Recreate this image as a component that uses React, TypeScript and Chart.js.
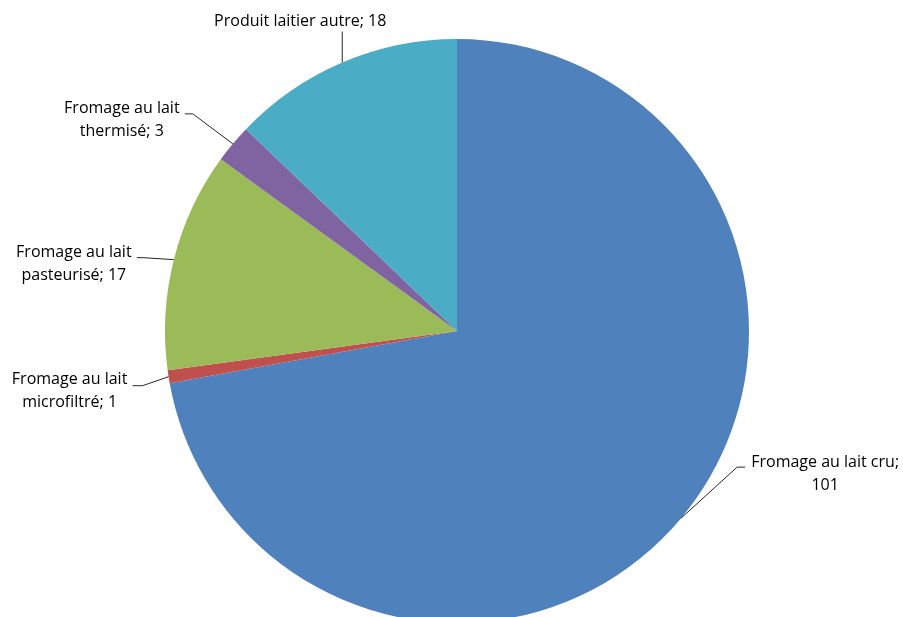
import React, { useEffect, useRef } from "react";
import { Chart, registerables } from "chart.js";

Chart.register(...registerables);

const categories = [
  "Fromage au lait cru",
  "Fromage au lait microfiltré",
  "Fromage au lait pasteurisé",
  "Fromage au lait thermisé",
  "Produit laitier autre",
];
const values = [101, 1, 17, 3, 18];
const labelLines = [
  ["Fromage au lait cru;", "101"],
  ["Fromage au lait", "microfiltré; 1"],
  ["Fromage au lait", "pasteurisé; 17"],
  ["Fromage au lait", "thermisé; 3"],
  ["Produit laitier autre; 18"],
];
const colors = ["#4F81BD", "#C0504D", "#9BBB59", "#8064A2", "#4BACC6"];

// label placement relative to slice anchor (mid-angle point on the rim)
const labelLayout = [
  { dx: 144, dy: -44, elbow: [56, -51], end: [64, -51] },
  { dx: -99, dy: 14, elbow: [-26, 9], end: [-36, 9] },
  { dx: -100, dy: 4, elbow: [-31, -2], end: [-37, -2] },
  { dx: -111, dy: -24, elbow: [-40, -30], end: [-48, -30] },
  { dx: -42, dy: -41, elbow: [0, -31], end: [0, -31] },
];

const labelPlugin = {
  id: "pieLabels",
  afterDraw(chart: any) {
    const ctx = chart.ctx;
    const meta = chart.getDatasetMeta(0);
    ctx.save();
    ctx.font = "16px 'Open Sans'";
    ctx.textAlign = "center";
    ctx.textBaseline = "middle";
    const lineH = 23;
    meta.data.forEach((arc: any, i: number) => {
      const p = arc.getProps(["x", "y", "startAngle", "endAngle", "outerRadius"], true);
      const mid = (p.startAngle + p.endAngle) / 2;
      const ax = p.x + Math.cos(mid) * p.outerRadius;
      const ay = p.y + Math.sin(mid) * p.outerRadius;
      const L = labelLayout[i];
      ctx.strokeStyle = "#262626";
      ctx.lineWidth = 1;
      ctx.beginPath();
      ctx.moveTo(ax, ay);
      ctx.lineTo(ax + L.elbow[0], ay + L.elbow[1]);
      ctx.lineTo(ax + L.end[0], ay + L.end[1]);
      ctx.stroke();
      const lines = labelLines[i];
      const cx = ax + L.dx;
      const cy = ay + L.dy;
      ctx.fillStyle = "#000000";
      lines.forEach((t, k) => {
        const y = cy + (k - (lines.length - 1) / 2) * lineH;
        ctx.fillText(t, cx, y);
      });
    });
    ctx.restore();
  },
};

export default function App() {
  const ref = useRef<HTMLCanvasElement>(null);
  useEffect(() => {
    const chart = new Chart(ref.current as HTMLCanvasElement, {
      type: "pie",
      data: {
        labels: categories,
        datasets: [
          {
            data: values,
            backgroundColor: colors,
            borderWidth: 0,
          },
        ],
      },
      options: {
        animation: false,
        responsive: false,
        layout: { padding: { left: 165, right: 154, top: 39, bottom: 39 } },
        plugins: { legend: { display: false }, tooltip: { enabled: false } },
      },
      plugins: [labelPlugin],
    });
    return () => chart.destroy();
  }, []);
  return (
    <div
      style={{
        position: "fixed",
        left: 0,
        top: 0,
        width: 903,
        height: 617,
        overflow: "hidden",
        background: "#ffffff",
      }}
    >
      <canvas ref={ref} width={903} height={662} style={{ width: 903, height: 662, display: "block" }} />
    </div>
  );
}
